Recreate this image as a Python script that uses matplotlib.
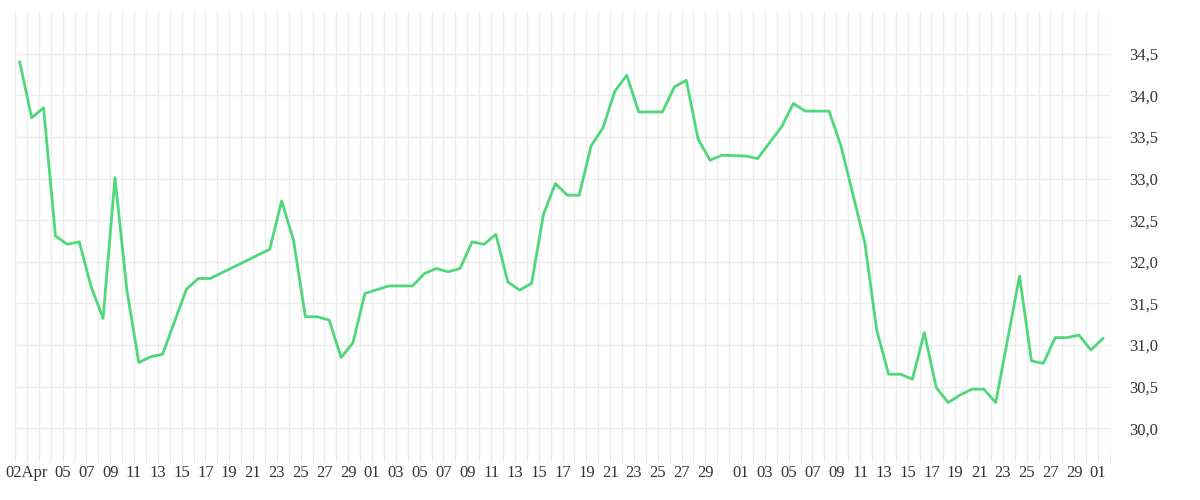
import numpy as np
import matplotlib
matplotlib.use("Agg")
import matplotlib.pyplot as plt
from matplotlib.ticker import FuncFormatter

# day index (0 = first observation, shortly before 02 Apr tick) and price
days = [0, 1, 2, 3, 4, 5, 6, 7, 8, 9, 10, 11, 12, 14, 15, 16, 21, 22, 23, 24,
        25, 26, 27, 28, 29, 31, 33, 34, 35, 36, 37, 38, 39, 40, 41, 42, 43, 44,
        45, 46, 47, 48, 49, 50, 51, 52, 54, 55, 56, 57, 58, 59, 61, 62, 64, 65,
        66, 68, 69, 71, 72, 73, 74, 75, 76, 77, 78, 79, 80, 81, 82, 84, 85, 86,
        87, 88, 89, 90, 91]
values = [34.40, 33.73, 33.85, 32.31, 32.21, 32.24, 31.70, 31.32, 33.01, 31.66,
          30.79, 30.86, 30.89, 31.67, 31.80, 31.80, 32.15, 32.73, 32.26, 31.34,
          31.34, 31.30, 30.85, 31.03, 31.62, 31.71, 31.71, 31.86, 31.92, 31.88,
          31.92, 32.24, 32.21, 32.33, 31.76, 31.66, 31.74, 32.57, 32.94, 32.80,
          32.80, 33.39, 33.61, 34.05, 34.24, 33.80, 33.80, 34.10, 34.18, 33.47,
          33.22, 33.28, 33.27, 33.24, 33.62, 33.90, 33.81, 33.81, 33.39, 32.23,
          31.18, 30.65, 30.65, 30.59, 31.15, 30.49, 30.31, 30.40, 30.47, 30.47,
          30.31, 31.83, 30.81, 30.78, 31.09, 31.09, 31.12, 30.94, 31.08]

# calendar tick labels: (days since 02 Apr, label)
tick_days = [0, 3, 5, 7, 9, 11, 13, 15, 17, 19, 21, 23, 25, 27,
             29, 31, 33, 35, 37, 39, 41, 43, 45, 47, 49, 51, 53, 55, 57,
             60, 62, 64, 66, 68, 70, 72, 74, 76, 78, 80, 82, 84, 86, 88, 90]
tick_labels = ["02Apr", "05", "07", "09", "11", "13", "15", "17", "19", "21", "23", "25", "27", "29",
               "01", "03", "05", "07", "09", "11", "13", "15", "17", "19", "21", "23", "25", "27", "29",
               "01", "03", "05", "07", "09", "11", "13", "15", "17", "19", "21", "23", "25", "27", "29",
               "01"]
y_ticks = [30.0, 30.5, 31.0, 31.5, 32.0, 32.5, 33.0, 33.5, 34.0, 34.5]

offset = 0.6  # first observation sits a bit before the 02Apr gridline

plt.rcParams["font.family"] = "Liberation Serif"
fig = plt.figure(figsize=(12, 5), dpi=100)
ax = fig.add_axes([15 / 1200, 45 / 500, 1095 / 1200, 443 / 500])

ax.plot(days, values, color="#4fd87a", lw=2.0, zorder=3)

ax.set_xlim(-0.4, 91.5)
ax.set_ylim(29.68, 35.0)
ax.set_xticks([d + offset for d in tick_days])
ax.set_xticklabels(tick_labels)
ax.set_xticks(np.arange(-1, 92) + offset, minor=True)
ax.set_yticks(y_ticks)
ax.yaxis.set_major_formatter(FuncFormatter(lambda v, p: f"{v:.1f}".replace(".", ",")))
ax.yaxis.tick_right()

ax.grid(True, which="both", axis="x", color="#ececec", lw=1)
ax.grid(True, which="major", axis="y", color="#ececec", lw=1)
for s in ax.spines.values():
    s.set_visible(False)
ax.tick_params(axis="x", which="both", length=5, color="#e6e6e6", labelsize=12,
               labelcolor="#333333", pad=2)
ax.tick_params(axis="y", length=0, labelsize=12, labelcolor="#333333", pad=14)

fig.savefig("out.png", dpi=100)
